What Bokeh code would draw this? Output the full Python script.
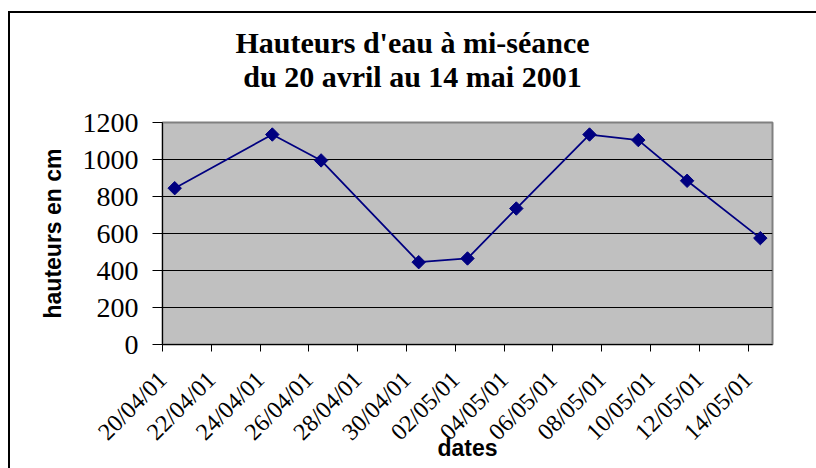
import pandas as pd
from math import pi
from bokeh.plotting import figure
from bokeh.models import (ColumnDataSource, FixedTicker, DatetimeTickFormatter,
                          Range1d, Label)
from bokeh.embed import file_html
from bokeh.resources import INLINE

# ---- data ----
title_lines = ["Hauteurs d'eau à mi-séance", "du 20 avril au 14 mai 2001"]
dates = ["20/04/01", "24/04/01", "26/04/01", "30/04/01", "02/05/01",
         "04/05/01", "07/05/01", "09/05/01", "11/05/01", "14/05/01"]
heights = [845, 1135, 995, 445, 465, 735, 1135, 1105, 885, 575]
tick_labels = ["20/04/01", "22/04/01", "24/04/01", "26/04/01", "28/04/01",
               "30/04/01", "02/05/01", "04/05/01", "06/05/01", "08/05/01",
               "10/05/01", "12/05/01", "14/05/01"]
y_ticks = [0, 200, 400, 600, 800, 1000, 1200]
x_start, x_end = "20/04/01", "15/05/01"
x_label = "dates"
y_label = "hauteurs en cm"


def parse(s):
    return pd.to_datetime(s, format="%d/%m/%y")


# points sit in the middle of their day (Excel date axis)
xs = [parse(d) + pd.Timedelta(hours=12) for d in dates]
src = ColumnDataSource(dict(x=xs, y=heights))

p = figure(x_axis_type="datetime",
           frame_width=610, frame_height=222,
           min_border_left=152, min_border_right=44,
           min_border_top=109, min_border_bottom=124,
           x_range=Range1d(parse(x_start), parse(x_end)),
           y_range=Range1d(y_ticks[0], y_ticks[-1]),
           output_backend="svg", toolbar_location=None)

# chart-area border (left and top edges are the only visible ones)
p.styles = {"margin-left": "8px", "margin-top": "11px",
            "border-left": "2px solid black", "border-top": "2px solid black"}

p.background_fill_color = "#c0c0c0"
p.border_fill_color = "white"
p.outline_line_color = "#808080"
p.outline_line_width = 2

p.line("x", "y", source=src, line_color="#000080", line_width=1.8)
p.scatter("x", "y", source=src, marker="square", angle=pi / 4, size=9.5,
          fill_color="#000080", line_color="#000080")

# grid
p.xgrid.visible = False
p.ygrid.grid_line_color = "black"
p.ygrid.grid_line_width = 1
p.ygrid.ticker = FixedTicker(ticks=y_ticks)

# y axis
ya = p.yaxis[0]
ya.ticker = FixedTicker(ticks=y_ticks)
ya.axis_line_color = "black"
ya.major_tick_line_color = "black"
ya.major_tick_out = 10
ya.major_tick_in = 0
ya.minor_tick_line_color = None
ya.major_label_text_font = "Liberation Serif"
ya.major_label_text_font_size = "28px"
ya.major_label_text_color = "black"
ya.major_label_standoff = 14
ya.axis_label = y_label
ya.axis_label_text_font = "Liberation Sans"
ya.axis_label_text_font_style = "bold"
ya.axis_label_text_font_size = "23px"
ya.axis_label_text_color = "black"
ya.axis_label_standoff = 14

# x axis
xa = p.xaxis[0]
xa.ticker = FixedTicker(ticks=[parse(t).timestamp() * 1000 for t in tick_labels])
fmt = "%d/%m/%y"
xa.formatter = DatetimeTickFormatter(days=fmt, months=fmt, years=fmt, hours=fmt,
                                     hourmin=fmt, minutes=fmt, minsec=fmt,
                                     seconds=fmt, milliseconds=fmt,
                                     microseconds=fmt,
                                     strip_leading_zeros=False,
                                     boundary_scaling=False)
xa.axis_line_color = "black"
xa.major_tick_line_color = "black"
xa.major_tick_out = 7
xa.major_tick_in = 0
xa.minor_tick_line_color = None
xa.major_label_orientation = pi / 4
xa.major_label_text_font = "Liberation Serif"
xa.major_label_text_font_size = "24px"
xa.major_label_text_color = "black"
xa.major_label_standoff = 24
xa.axis_label = x_label
xa.axis_label_text_font = "Liberation Sans"
xa.axis_label_text_font_style = "bold"
xa.axis_label_text_font_size = "23px"
xa.axis_label_text_color = "black"
xa.axis_label_standoff = -22

# title: two centred lines, centred on the chart area (placed in the top panel)
for i, line in enumerate(title_lines):
    p.add_layout(Label(x=400, y=27 + 34 * i, x_units="canvas", y_units="canvas",
                       text=line, text_align="center", text_baseline="alphabetic",
                       text_font="Liberation Serif", text_font_style="bold",
                       text_font_size="30px", text_color="black"), "above")

open("out.html", "w").write(file_html(p, INLINE))
